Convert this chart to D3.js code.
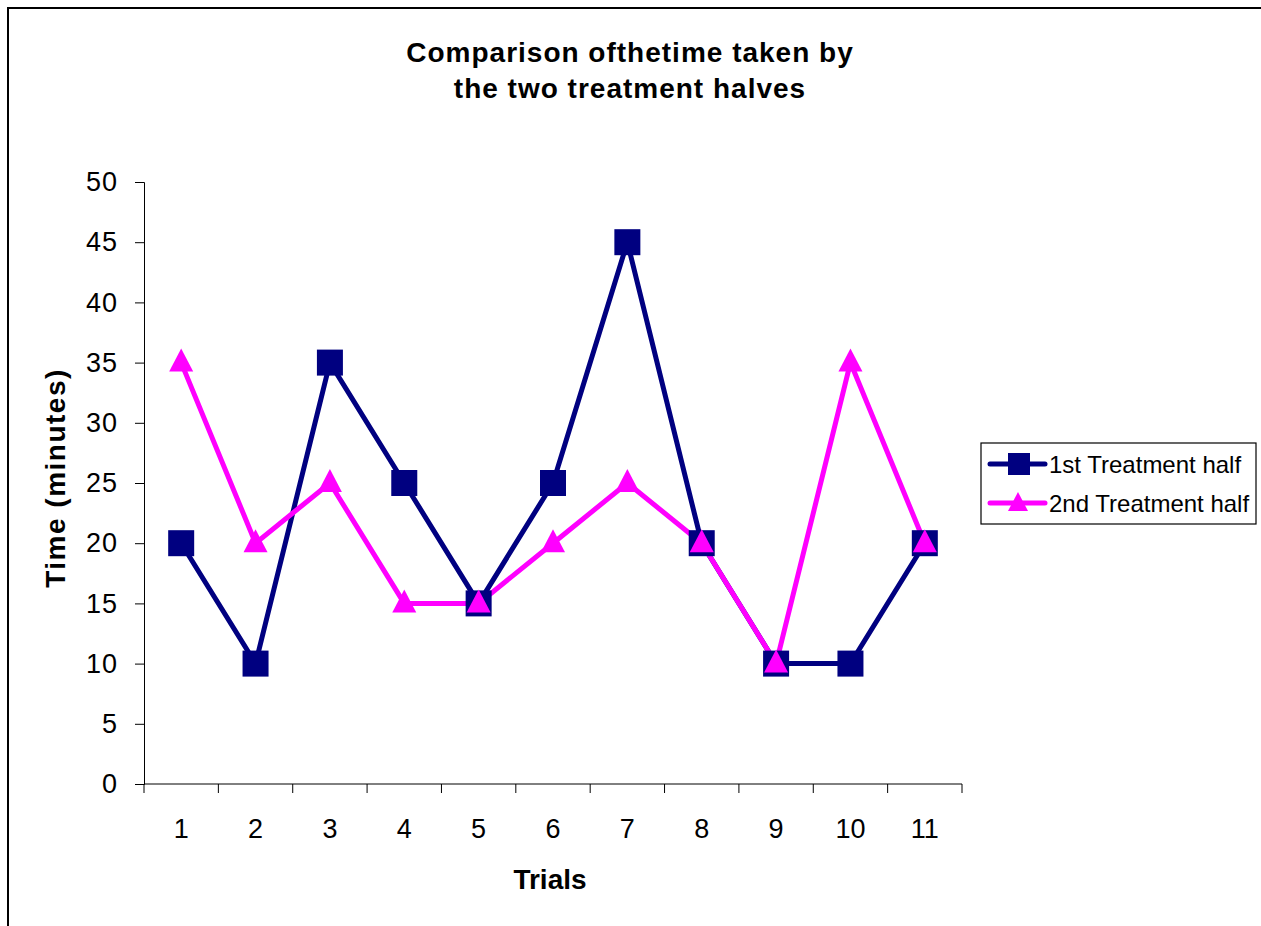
<!DOCTYPE html>
<html>
<head>
<meta charset="utf-8">
<script src="https://cdn.jsdelivr.net/npm/d3@7"></script>
<style>
  body { margin: 0; background: #fff; }
  text { font-family: "Liberation Sans", Arial, sans-serif; }
</style>
</head>
<body>
<svg id="chart" width="1261" height="926"></svg>
<script>
var width = 1261;
var height = 926;

var trials = ["1", "2", "3", "4", "5", "6", "7", "8", "9", "10", "11"];
var firstHalf = [20, 10, 35, 25, 15, 25, 45, 20, 10, 10, 20];
var secondHalf = [35, 20, 25, 15, 15, 20, 25, 20, 10, 35, 20];
var yTicks = [0, 5, 10, 15, 20, 25, 30, 35, 40, 45, 50];

var plot = { left: 144, right: 962, top: 182, bottom: 784 };

var svg = d3.select("#chart");

// outer frame (runs off the bottom and right edge)
svg.append("rect")
  .attr("x", 8).attr("y", 8)
  .attr("width", 1300).attr("height", 1000)
  .attr("fill", "none")
  .attr("stroke", "#000")
  .attr("stroke-width", 2);

var x = d3.scaleBand().domain(trials).range([plot.left, plot.right]);
var y = d3.scaleLinear().domain([0, 50]).range([plot.bottom, plot.top]);

// y axis
var yAxis = svg.append("g")
  .attr("transform", "translate(" + plot.left + ",0)")
  .call(d3.axisLeft(y).tickValues(yTicks).tickSize(9).tickPadding(17));
yAxis.selectAll("text").attr("font-size", 27).attr("fill", "#000")
  .attr("letter-spacing", 1)
  .style("font-family", "Liberation Sans, Arial, sans-serif");
yAxis.select(".domain").attr("stroke", "#000");

// x axis: ticks at band edges, labels centered
var xAxis = svg.append("g")
  .attr("transform", "translate(0," + plot.bottom + ")");
xAxis.append("line")
  .attr("x1", plot.left).attr("x2", plot.right)
  .attr("stroke", "#000");
var edges = trials.map(function(d) { return x(d); }).concat([plot.right]);
xAxis.selectAll("line.tick")
  .data(edges)
  .enter().append("line")
  .attr("class", "tick")
  .attr("x1", function(d) { return d; })
  .attr("x2", function(d) { return d; })
  .attr("y1", 0).attr("y2", 9)
  .attr("stroke", "#000");
xAxis.selectAll("text")
  .data(trials)
  .enter().append("text")
  .attr("x", function(d) { return x(d) + x.bandwidth() / 2; })
  .attr("y", 54)
  .attr("text-anchor", "middle")
  .attr("font-size", 27)
  .text(function(d) { return d; });

var cx = function(d, i) { return x(trials[i]) + x.bandwidth() / 2; };
var line = d3.line().x(cx).y(function(d) { return y(d); });

// 1st treatment half
svg.append("path")
  .datum(firstHalf)
  .attr("d", line)
  .attr("fill", "none")
  .attr("stroke", "#000080")
  .attr("stroke-width", 5);

// 2nd treatment half
svg.append("path")
  .datum(secondHalf)
  .attr("d", line)
  .attr("fill", "none")
  .attr("stroke", "#ff00ff")
  .attr("stroke-width", 5);

var sq = 26;
svg.selectAll("rect.first")
  .data(firstHalf)
  .enter().append("rect")
  .attr("class", "first")
  .attr("x", function(d, i) { return cx(d, i) - sq / 2; })
  .attr("y", function(d) { return y(d) - sq / 2; })
  .attr("width", sq).attr("height", sq)
  .attr("fill", "#000080");

function triangle(px, py) {
  return "M" + px + "," + (py - 14) + "L" + (px + 12) + "," + (py + 9) + "L" + (px - 12) + "," + (py + 9) + "Z";
}

svg.selectAll("path.second")
  .data(secondHalf)
  .enter().append("path")
  .attr("class", "second")
  .attr("d", function(d, i) { return triangle(cx(d, i), y(d)); })
  .attr("fill", "#ff00ff");

// title
var title = svg.append("text")
  .attr("text-anchor", "middle")
  .attr("font-size", 28)
  .attr("font-weight", "bold")
  .attr("letter-spacing", 1);
title.append("tspan").attr("x", 630).attr("y", 62).text("Comparison ofthetime taken by");
title.append("tspan").attr("x", 630).attr("y", 98).text("the two treatment halves");

// axis titles
svg.append("text")
  .attr("transform", "translate(65,478) rotate(-90)")
  .attr("text-anchor", "middle")
  .attr("font-size", 28)
  .attr("font-weight", "bold")
  .attr("letter-spacing", 1.5)
  .text("Time (minutes)");

svg.append("text")
  .attr("x", 550).attr("y", 889)
  .attr("text-anchor", "middle")
  .attr("font-size", 28)
  .attr("font-weight", "bold")
  .text("Trials");

// legend
var legendItems = [
  { name: "1st Treatment half", color: "#000080", shape: "square" },
  { name: "2nd Treatment half", color: "#ff00ff", shape: "triangle" }
];
var legend = svg.append("g");
legend.append("rect")
  .attr("x", 981).attr("y", 443)
  .attr("width", 275).attr("height", 81)
  .attr("fill", "#fff")
  .attr("stroke", "#000")
  .attr("stroke-width", 1.2);

var rows = legend.selectAll("g.row")
  .data(legendItems)
  .enter().append("g")
  .attr("class", "row")
  .attr("transform", function(d, i) { return "translate(0," + (464 + i * 39) + ")"; });
rows.append("line")
  .attr("x1", 990).attr("x2", 1045)
  .attr("stroke", function(d) { return d.color; })
  .attr("stroke-width", 5)
  .attr("stroke-linecap", "round");
rows.each(function(d) {
  var g = d3.select(this);
  if (d.shape === "square") {
    g.append("rect").attr("x", 1008).attr("y", -11).attr("width", 22).attr("height", 22).attr("fill", d.color);
  } else {
    g.append("path").attr("d", "M1018,-11L1028,8L1008,8Z").attr("fill", d.color);
  }
});
rows.append("text")
  .attr("x", 1049).attr("y", 9)
  .attr("font-size", 24)
  .text(function(d) { return d.name; });
</script>
</body>
</html>
